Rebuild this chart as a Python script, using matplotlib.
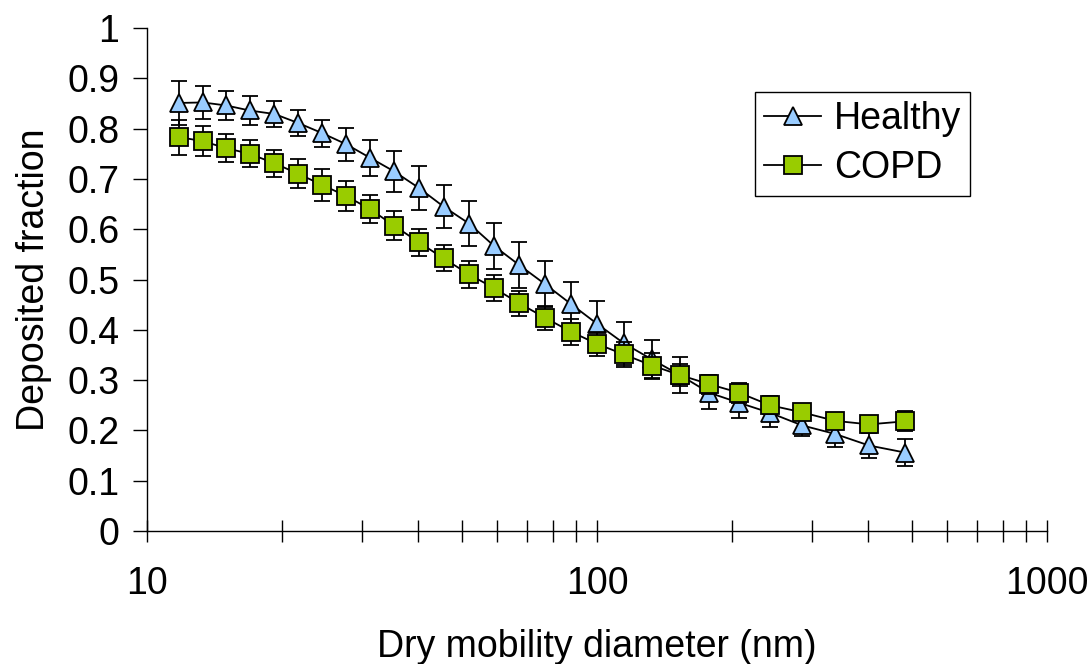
import matplotlib
matplotlib.use("Agg")
import matplotlib.pyplot as plt
from matplotlib.ticker import LogLocator, NullFormatter, FixedLocator, FixedFormatter

plt.rcParams['font.family'] = ['Liberation Sans', 'DejaVu Sans']

diameter_nm = [11.8, 13.3, 15.0, 16.9, 19.2, 21.7, 24.5, 27.7, 31.3, 35.4,
               40.2, 45.6, 52.0, 59.0, 67.1, 76.6, 87.6, 100.0, 114.8, 132.5,
               152.9, 177.4, 206.8, 242.3, 285.5, 338.0, 402.2, 483.4]

healthy = [0.851, 0.852, 0.846, 0.836, 0.829, 0.811, 0.791, 0.769, 0.742, 0.715,
           0.682, 0.645, 0.611, 0.567, 0.529, 0.491, 0.451, 0.412, 0.373, 0.341,
           0.310, 0.275, 0.255, 0.235, 0.210, 0.193, 0.170, 0.156]
healthy_err = [0.044, 0.033, 0.029, 0.028, 0.025, 0.025, 0.027, 0.033, 0.036, 0.041,
               0.043, 0.042, 0.045, 0.046, 0.046, 0.045, 0.045, 0.045, 0.042, 0.039,
               0.035, 0.032, 0.030, 0.029, 0.022, 0.026, 0.024, 0.027]

copd = [0.783, 0.775, 0.761, 0.750, 0.731, 0.710, 0.688, 0.666, 0.640, 0.607,
        0.574, 0.542, 0.510, 0.483, 0.453, 0.424, 0.396, 0.372, 0.351, 0.329,
        0.310, 0.292, 0.275, 0.250, 0.236, 0.219, 0.212, 0.218]
copd_err = [0.035, 0.030, 0.028, 0.027, 0.027, 0.029, 0.031, 0.030, 0.028, 0.029,
            0.027, 0.026, 0.026, 0.025, 0.025, 0.024, 0.026, 0.024, 0.024, 0.025,
            0.022, 0.019, 0.020, 0.018, 0.016, 0.015, 0.016, 0.020]

y_ticks = [0, 0.1, 0.2, 0.3, 0.4, 0.5, 0.6, 0.7, 0.8, 0.9, 1]
y_tick_labels = ['0', '0.1', '0.2', '0.3', '0.4', '0.5', '0.6', '0.7', '0.8', '0.9', '1']
x_ticks = [10, 100, 1000]
x_tick_labels = ['10', '100', '1000']

FS = 27

fig = plt.figure(figsize=(10.91, 6.64), dpi=100)
ax = fig.add_axes([147/1091, 1-531/664, 900/1091, 503/664])

# Healthy
ax.errorbar(diameter_nm, healthy, yerr=healthy_err, fmt='none', ecolor='black',
            elinewidth=1.3, capsize=5.5, capthick=1.3, zorder=2)
ax.plot(diameter_nm, healthy, color='black', lw=1.3, marker='^', markersize=13.5,
        markerfacecolor='#99CCFF', markeredgecolor='black', markeredgewidth=1.3,
        label='Healthy', zorder=3)
# COPD
ax.errorbar(diameter_nm, copd, yerr=copd_err, fmt='none', ecolor='black',
            elinewidth=1.3, capsize=5.5, capthick=1.3, zorder=4)
ax.plot(diameter_nm, copd, color='black', lw=1.3, marker='s', markersize=12.5,
        markerfacecolor='#99CC00', markeredgecolor='black', markeredgewidth=1.3,
        label='COPD', zorder=5)

ax.set_xscale('log')
ax.set_xlim(10, 1000)
ax.set_ylim(0, 1)

for s in ['top', 'right']:
    ax.spines[s].set_visible(False)
for s in ['left', 'bottom']:
    ax.spines[s].set_linewidth(1.0)
    ax.spines[s].set_color('black')

ax.xaxis.set_major_locator(FixedLocator(x_ticks))
ax.xaxis.set_major_formatter(FixedFormatter(x_tick_labels))
ax.xaxis.set_minor_locator(LogLocator(base=10, subs=range(2, 10)))
ax.xaxis.set_minor_formatter(NullFormatter())
ax.tick_params(axis='x', which='both', direction='inout', length=16, width=1.0,
               labelsize=FS, pad=17.5)
ax.set_yticks(y_ticks)
ax.set_yticklabels(y_tick_labels)
ax.tick_params(axis='y', which='major', direction='out', length=10, width=1.0,
               labelsize=FS, pad=10)

ax.set_xlabel('Dry mobility diameter (nm)', fontsize=FS, labelpad=19)
ax.set_ylabel('Deposited fraction', fontsize=FS, labelpad=11)

leg = ax.legend(loc='upper left', bbox_to_anchor=(755/1091, 1-92/664),
                bbox_transform=fig.transFigure, fontsize=FS, frameon=True,
                fancybox=False, edgecolor='black', framealpha=1,
                handlelength=1.5, handletextpad=0.35, labelspacing=0.35,
                borderpad=0.25, borderaxespad=0)
leg.get_frame().set_linewidth(1.0)

fig.savefig('out.png', dpi=100)
